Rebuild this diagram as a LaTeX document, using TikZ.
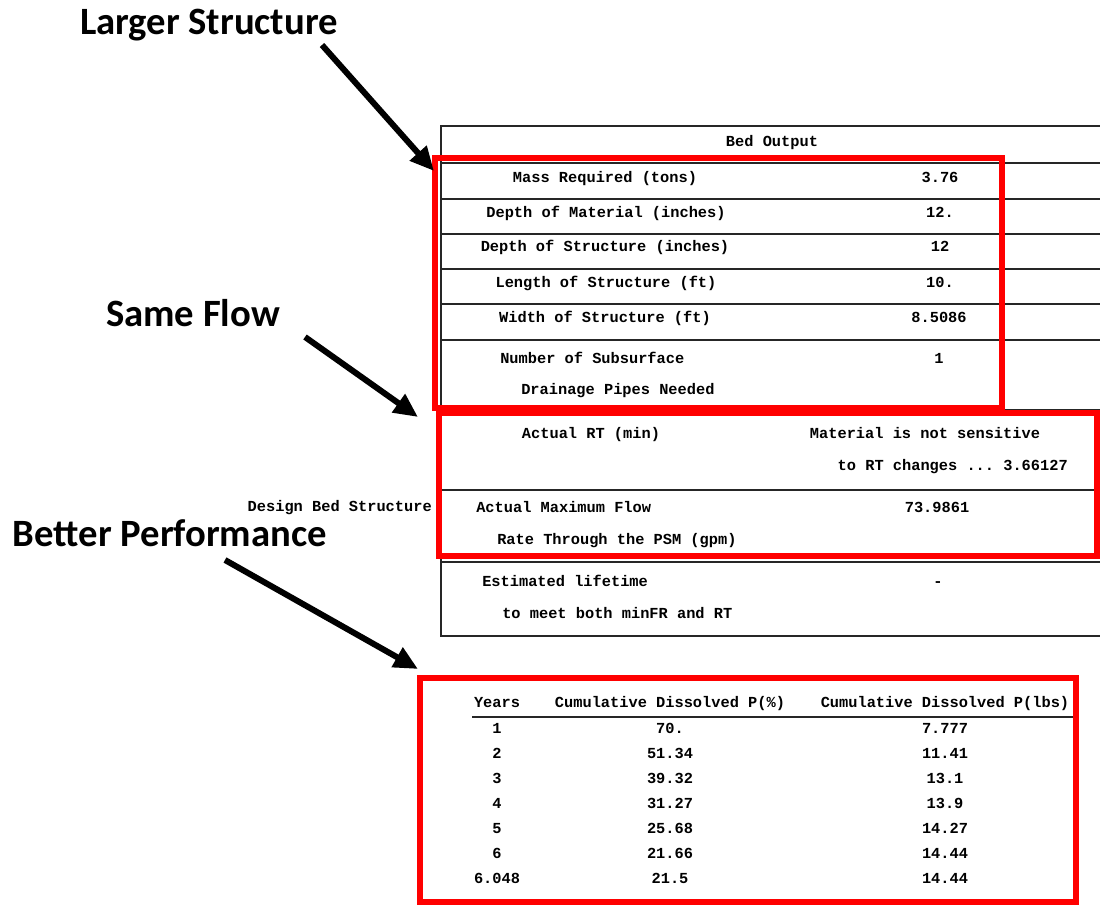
\documentclass[tikz,border=0pt]{standalone}
\usepackage{fontspec}
\setmainfont{Carlito}
\setmonofont{Liberation Mono}
\usetikzlibrary{arrows.meta,positioning}
\tikzstyle{callout} = [font=\fontsize{29}{30}\selectfont\bfseries,inner sep=0,anchor=mid,yshift=-4pt]
\tikzstyle{cell} = [font=\ttfamily\bfseries\fontsize{11.5}{12}\selectfont,inner sep=0,anchor=mid,yshift=-1.5pt]
\tikzstyle{redbox} = [draw=red,line width=4.5pt]
\tikzstyle{tabline} = [draw=black!85,line width=1.1pt]
\tikzstyle{pointer} = [-{Triangle[length=18pt,width=16pt]},line width=4.5pt]
\def \rx {1100}

\begin{document}
\begin{tikzpicture}[x=0.75pt,y=-0.75pt]
      \useasboundingbox (0,0) rectangle (1100,906);
      % table frame
      \draw[tabline] (\rx,126) -- (441,126) -- (441,636) -- (\rx,636);
      \foreach \ly in {163,199,234,269,304,340,410,490,562}
        \draw[tabline] (441,\ly) -- (\rx,\ly);
      % bed output rows
      \node[cell] (title) at (772,141) {Bed Output};
      \node[cell] (mass)  at (605,177) {Mass Required (tons)};
      \node[cell] (massv) at (940,177) {3.76};
      \node[cell] (dmat)  at (606,212) {Depth of Material (inches)};
      \node[cell] (dmatv) at (940,212) {12.};
      \node[cell] (dstr)  at (605,246) {Depth of Structure (inches)};
      \node[cell] (dstrv) at (940,246) {12};
      \node[cell] (len)   at (606,282) {Length of Structure (ft)};
      \node[cell] (lenv)  at (940,282) {10.};
      \node[cell] (wid)   at (605,317) {Width of Structure (ft)};
      \node[cell] (widv)  at (939,317) {8.5086};
      \node[cell,anchor=mid west] (pipes)  at (500,358) {Number of Subsurface};
      \node[cell,anchor=mid west] (pipes2) at (521,389) {Drainage Pipes Needed};
      \node[cell] (pipesv) at (939,358) {1};
      \node[cell] (rt)   at (591,433) {Actual RT (min)};
      \node[cell] (rtv)  at (925,433) {Material is not sensitive};
      \node[cell,anchor=mid east] (rtv2) at (1068,465) {to RT changes ... 3.66127};
      \node[cell,anchor=mid west] (flow)  at (476,507) {Actual Maximum Flow};
      \node[cell,anchor=mid west] (flow2) at (497,539) {Rate Through the PSM (gpm)};
      \node[cell] (flowv) at (937,507) {73.9861};
      \node[cell,anchor=mid west] (life)  at (482,581) {Estimated lifetime};
      \node[cell,anchor=mid west] (life2) at (502,613) {to meet both minFR and RT};
      \node[cell] (lifev) at (938,581) {-};
      \node[cell,anchor=mid east] (design) at (432,506) {Design Bed Structure};
      % dissolved P table
      \node[cell] (yrs) at (497,702) {Years};
      \node[cell] (pct) at (670,702) {Cumulative Dissolved P(\%)};
      \node[cell] (lbs) at (945,702) {Cumulative Dissolved P(lbs)};
      \coordinate (hl) at (472,717);
      \coordinate (hr) at (1076,717);
      \draw[line width=1.5pt,black!85] (hl) -- (hr);
      \foreach \yr/\pc/\lb [count=\i] in {1/70./7.777, 2/51.34/11.41, 3/39.32/13.1, 4/31.27/13.9, 5/25.68/14.27, 6/21.66/14.44, 6.048/21.5/14.44} {
        \node[cell] (yr\i) at (497,703+25*\i) {\yr};
        \node[cell] (pc\i) at (670,703+25*\i) {\pc};
        \node[cell] (lb\i) at (945,703+25*\i) {\lb};
      }
      % red highlights
      \draw[redbox] (435,158) rectangle (1002,408);
      \draw[redbox] (439,413) rectangle (1097,556);
      \draw[redbox] (420,678) rectangle (1076,902);
      % callouts
      \node[callout] (larger) at (209,26) {Larger Structure};
      \node[callout] (same)   at (193,318) {Same Flow};
      \node[callout] (better) at (170,538) {Better Performance};
      \coordinate (larger-tail) at (322,45);
      \coordinate (larger-tip)  at (434,171);
      \coordinate (same-tail)   at (305,337);
      \coordinate (same-tip)    at (418,417);
      \coordinate (better-tail) at (225,560);
      \coordinate (better-tip)  at (418,669);
      \draw[pointer] (larger-tail) -- (larger-tip);
      \draw[pointer] (same-tail) -- (same-tip);
      \draw[pointer] (better-tail) -- (better-tip);
\end{tikzpicture}
\end{document}
